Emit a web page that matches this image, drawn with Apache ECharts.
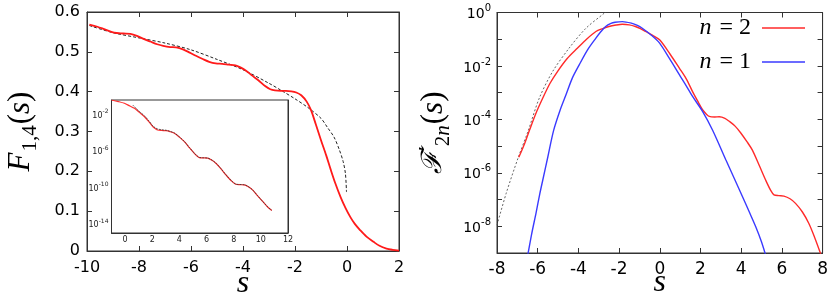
<!DOCTYPE html>
<html><head><meta charset="utf-8">
<script src="https://cdn.jsdelivr.net/npm/echarts@6/dist/echarts.min.js"></script>
<style>html,body{margin:0;padding:0;background:#fff}#c{width:831px;height:305px}</style>
</head><body><div id="c"></div>
<script>
// ---------- Left panel: F_{1,4}(s) ----------
const leftRedS = [-9.91,-9.6,-9.34,-8.96,-8.6,-8.33,-8.08,-7.8,-7.57,-7.3,-7.07,-6.8,-6.57,-6.31,-6.05,-5.81,-5.55,-5.3,-5.05,-4.8,-4.55,-4.29,-4.1,-3.91,-3.66,-3.4,-3.15,-2.95,-2.77,-2.55,-2.35,-2.14,-1.95,-1.76,-1.55,-1.38,-1.2,-1.0,-0.8,-0.62,-0.45,-0.25,-0.05,0.13,0.3,0.51,0.75,1.02,1.25,1.52,1.75,2.0];
const leftRedF = [0.568,0.563,0.557,0.548,0.546,0.545,0.540,0.532,0.526,0.519,0.515,0.512,0.511,0.506,0.498,0.490,0.482,0.475,0.471,0.470,0.468,0.466,0.461,0.454,0.441,0.428,0.414,0.406,0.403,0.402,0.402,0.401,0.398,0.391,0.375,0.353,0.318,0.278,0.240,0.203,0.170,0.136,0.107,0.085,0.068,0.052,0.036,0.023,0.013,0.006,0.003,0.001];
const leftDashS = [-9.91,-9.0,-8.0,-7.0,-6.0,-5.0,-4.0,-3.0,-2.5,-2.0,-1.5,-1.0,-0.75,-0.5,-0.3,-0.15,-0.06,-0.02];
const leftDashF = [0.566,0.548,0.535,0.522,0.505,0.481,0.455,0.421,0.402,0.382,0.360,0.333,0.310,0.286,0.255,0.225,0.194,0.148];

// ---------- Inset (log scale) ----------
const insetRedS = [-1.0,-0.5,-0.05,0.35,0.69,1.05,1.43,1.75,2.04,2.25,2.4,2.7,3.01,3.3,3.63,4.0,4.37,4.75,5.1,5.3,5.47,5.75,6.08,6.4,6.69,7.05,7.43,7.8,8.16,8.45,8.78,9.05,9.39,9.75,10.13,10.5,10.81];
const insetRedV = [0.34,0.23,0.148,0.075,0.042,0.015,5.1e-3,1.5e-3,4.2e-4,2.4e-4,1.8e-4,1.6e-4,1.5e-4,1.2e-4,7.9e-5,3.0e-5,9.5e-6,2.0e-6,5.1e-7,2.6e-7,1.7e-7,1.6e-7,1.5e-7,9.0e-8,4.2e-8,1.1e-8,2.2e-9,5.5e-10,2.1e-10,1.9e-10,1.8e-10,1.2e-10,5.1e-11,1.2e-11,2.8e-12,7.0e-13,2.9e-13];
const insetDashS = [0.57,1.0,1.43,1.75,2.04,2.25,2.4,2.7,3.01,3.3,3.63,4.0,4.37,4.75,5.1,5.3,5.47,5.75,6.08,6.4,6.69,7.05,7.43,7.8,8.16,8.45,8.78,9.05,9.39,9.75,10.13,10.5,10.81];
const insetDashV = [0.095,0.022,6.3e-3,1.8e-3,5.0e-4,3.0e-4,2.3e-4,1.9e-4,1.7e-4,1.3e-4,8.5e-5,3.2e-5,9.8e-6,2.1e-6,5.3e-7,2.7e-7,1.8e-7,1.65e-7,1.55e-7,9.3e-8,4.3e-8,1.15e-8,2.3e-9,5.7e-10,2.2e-10,2.0e-10,1.85e-10,1.25e-10,5.2e-11,1.25e-11,2.9e-12,7.2e-13,3.0e-13];
const insetXTicks = [0,2,4,6,8,10,12];
const insetYLabels = [1e-2,1e-6,1e-10,1e-14];
const insetYTicks = [1e-2,1e-4,1e-6,1e-8,1e-10,1e-12,1e-14];

// ---------- Right panel: F'_{2n}(s) ----------
const n2S = [-6.93,-6.65,-6.4,-6.1,-5.75,-5.4,-5.02,-4.55,-4.04,-3.6,-3.14,-2.8,-2.5,-2.15,-1.84,-1.5,-1.2,-0.95,-0.7,-0.35,-0.01,0.5,0.96,1.3,1.61,1.85,2.1,2.28,2.43,2.7,2.92,3.2,3.41,3.7,3.98,4.3,4.55,4.9,5.2,5.45,5.61,5.85,6.1,6.4,6.67,7.0,7.32,7.6,7.89,7.95];
const n2V = [3.8e-6,1.2e-5,4.0e-5,1.6e-4,6.3e-4,2.2e-3,6.3e-3,0.019,0.047,0.10,0.195,0.25,0.30,0.34,0.363,0.345,0.30,0.25,0.195,0.14,0.095,0.028,8.3e-3,3.3e-3,1.1e-3,5.0e-4,2.3e-4,1.6e-4,1.3e-4,1.23e-4,1.25e-4,1.1e-4,8.5e-5,5.6e-5,3.1e-5,1.4e-5,7.1e-6,1.8e-6,5.4e-7,2.2e-7,1.5e-7,1.4e-7,1.35e-7,1.07e-7,7.2e-8,3.5e-8,1.3e-8,4.0e-9,1.0e-9,7.0e-10];
const n1S = [-6.55,-6.48,-6.3,-6.08,-5.9,-5.75,-5.5,-5.22,-4.9,-4.61,-4.3,-3.96,-3.55,-3.14,-2.9,-2.66,-2.4,-2.2,-1.84,-1.4,-1.1,-0.86,-0.4,-0.01,0.48,0.96,1.3,1.61,2.1,2.59,3.25,3.65,4.06,4.4,4.71,5.0,5.17,5.25];
const n1V = [5.0e-10,9.1e-10,5.0e-9,3.2e-8,1.6e-7,5.4e-7,4.0e-6,3.8e-5,2.2e-4,8.3e-4,3.5e-3,0.011,0.040,0.11,0.19,0.30,0.39,0.43,0.457,0.40,0.33,0.257,0.138,0.071,0.0186,4.7e-3,1.8e-3,7.2e-4,2.0e-4,4.0e-5,3.0e-6,6.4e-7,1.3e-7,3.4e-8,9.8e-9,2.6e-9,1.0e-9,6.3e-10];
const dashRS = [-8.0,-7.55,-6.97,-6.48,-5.92,-5.26,-4.45,-3.63,-2.74,-2.5];
const dashRV = [1.1e-8,1.7e-7,3.5e-6,3.5e-5,6.3e-4,6.3e-3,0.047,0.257,0.93,1.35];
const rightYLabels = [1e-8,1e-6,1e-4,1e-2,1];
const rightYTicks = [1e-8,1e-7,1e-6,1e-5,1e-4,1e-3,1e-2,1e-1,1];

const zip = (a, b) => a.map((v, i) => [v, b[i]]);

const AX = '#333333';
const SANS = 'DejaVu Sans';
const SERIF = 'Liberation Serif';
const line = () => ({ show: true, onZero: false, lineStyle: { color: AX, width: 1 } });
function tick(len, custom) { const t = { show: true, inside: true, length: len, lineStyle: { color: AX, width: 1 } }; if (custom) t.customValues = custom.slice(); return t; }
const hidden = () => ({ show: false });
const noSplit = () => ({ show: false });
const expFmt = v => '{b|10}{s|' + Math.round(Math.log10(v)) + '}';

const chart = echarts.init(document.getElementById('c'));
chart.setOption({
  animation: false,
  grid: [
    { left: 83, right: 432, top: 12, bottom: 54, show: true, borderColor: AX, borderWidth: 1 },
    { left: 111.5, right: 543, top: 100, bottom: 72, show: true, backgroundColor: '#fff', borderColor: AX, borderWidth: 1, z: 3 },
    { left: 497, right: 7, top: 12.5, bottom: 52, show: true, borderColor: AX, borderWidth: 1 }
  ],
  xAxis: [
    { gridIndex: 0, type: 'value', min: -10, max: 2, interval: 2, position: 'bottom', axisLine: line(), axisTick: tick(5), splitLine: noSplit(),
      axisLabel: { fontFamily: SANS, fontSize: 16, color: '#000', margin: 9 },
      name: 's', nameLocation: 'middle', nameGap: 17, nameMoveOverlap: false,
      nameTextStyle: { fontFamily: SERIF, fontStyle: 'italic', fontSize: 32, color: '#000' } },
    { gridIndex: 0, type: 'value', min: -10, max: 2, interval: 2, position: 'top', axisLine: line(), axisTick: tick(5), axisLabel: hidden(), splitLine: noSplit() },
    { gridIndex: 1, type: 'value', min: -1, max: 12, position: 'bottom', axisLine: line(), axisTick: tick(3, insetXTicks), splitLine: noSplit(),
      axisLabel: { customValues: insetXTicks.slice(), fontFamily: SANS, fontSize: 8, color: '#222', margin: 3 } },
    { gridIndex: 1, type: 'value', min: -1, max: 12, position: 'top', axisLine: line(), axisTick: tick(3, insetXTicks), axisLabel: hidden(), splitLine: noSplit() },
    { gridIndex: 2, type: 'value', min: -8, max: 8, interval: 2, position: 'bottom', axisLine: line(), axisTick: tick(5), splitLine: noSplit(),
      axisLabel: { fontFamily: SANS, fontSize: 17, color: '#000', margin: 8 },
      name: 's', nameLocation: 'middle', nameGap: 14, nameMoveOverlap: false,
      nameTextStyle: { fontFamily: SERIF, fontStyle: 'italic', fontSize: 32, color: '#000' } },
    { gridIndex: 2, type: 'value', min: -8, max: 8, interval: 2, position: 'top', axisLine: line(), axisTick: tick(5), axisLabel: hidden(), splitLine: noSplit() }
  ],
  yAxis: [
    { gridIndex: 0, type: 'value', min: 0, max: 0.6, interval: 0.1, position: 'left', axisLine: line(), axisTick: tick(5), splitLine: noSplit(),
      axisLabel: { fontFamily: SANS, fontSize: 16, color: '#000', margin: 7 },
      name: '{i|F}{sub|1,4}{n|(}{i|s}{n|)}', nameLocation: 'middle', nameGap: 46, nameRotate: 90, nameMoveOverlap: false,
      nameTextStyle: { color: '#000', rich: {
        i: { fontFamily: SERIF, fontStyle: 'italic', fontSize: 31, lineHeight: 40 },
        n: { fontFamily: SERIF, fontSize: 31, lineHeight: 40 },
        sub: { fontFamily: SERIF, fontSize: 21, lineHeight: 40, verticalAlign: 'top', padding: [19, 1, 0, 1] } } } },
    { gridIndex: 0, type: 'value', min: 0, max: 0.6, interval: 0.1, position: 'right', axisLine: line(), axisTick: tick(5), axisLabel: hidden(), splitLine: noSplit() },
    { gridIndex: 1, type: 'log', logBase: 10, min: 1e-15, max: 0.34, position: 'left', axisLine: line(), axisTick: tick(3, insetYTicks), splitLine: noSplit(), minorTick: { show: false },
      axisLabel: { customValues: insetYLabels.slice(), formatter: expFmt, margin: 3, color: '#222',
        rich: { b: { fontFamily: SANS, fontSize: 8, lineHeight: 11, verticalAlign: 'bottom' }, s: { fontFamily: SANS, fontSize: 6, lineHeight: 11, verticalAlign: 'top' } } } },
    { gridIndex: 1, type: 'log', logBase: 10, min: 1e-15, max: 0.34, position: 'right', axisLine: line(), axisTick: tick(3, insetYTicks), axisLabel: hidden(), splitLine: noSplit() },
    { gridIndex: 2, type: 'log', logBase: 10, min: 1e-9, max: 1, position: 'left', axisLine: line(), axisTick: tick(5, rightYTicks), splitLine: noSplit(), minorTick: { show: false },
      axisLabel: { customValues: rightYLabels.slice(), formatter: expFmt, margin: 6, color: '#000',
        rich: { b: { fontFamily: SANS, fontSize: 14, lineHeight: 18, verticalAlign: 'bottom' }, s: { fontFamily: SANS, fontSize: 10, lineHeight: 18, verticalAlign: 'top' } } },
      name: '{c|ℱ}{p|′}{sub|2}{subi|n}{n|(}{i|s}{n|)}', nameLocation: 'middle', nameGap: 43, nameRotate: 90, nameMoveOverlap: false,
      nameTextStyle: { color: '#000', rich: {
        c: { fontFamily: 'DejaVu Serif', fontStyle: 'italic', fontSize: 28, lineHeight: 40 },
        p: { fontFamily: SERIF, fontSize: 22, lineHeight: 40, verticalAlign: 'top', padding: [2, 0, 0, 0] },
        i: { fontFamily: SERIF, fontStyle: 'italic', fontSize: 31, lineHeight: 40 },
        n: { fontFamily: SERIF, fontSize: 31, lineHeight: 40 },
        sub: { fontFamily: SERIF, fontSize: 21, lineHeight: 40, verticalAlign: 'top', padding: [19, 0, 0, 0] },
        subi: { fontFamily: SERIF, fontStyle: 'italic', fontSize: 21, lineHeight: 40, verticalAlign: 'top', padding: [19, 1, 0, 0] } } } },
    { gridIndex: 2, type: 'log', logBase: 10, min: 1e-9, max: 1, position: 'right', axisLine: line(), axisTick: tick(5, rightYTicks), axisLabel: hidden(), splitLine: noSplit() }
  ],
  legend: {
    data: [{ name: 'n2', icon: 'rect' }, { name: 'n1', icon: 'rect' }], orient: 'vertical', right: 26, top: 16, align: 'right', padding: 0,
    itemWidth: 43, itemHeight: 1.6, itemGap: 10, selectedMode: false,
    formatter: name => name === 'n2' ? '{i|n}{t| = 2 }' : '{i|n}{t| = 1 }',
    textStyle: { color: '#000', rich: {
      i: { fontFamily: SERIF, fontStyle: 'italic', fontSize: 24, lineHeight: 24 },
      t: { fontFamily: SERIF, fontSize: 24, lineHeight: 24, padding: [0, 0, 0, 2] } } }
  },
  series: [
    { type: 'line', xAxisIndex: 0, yAxisIndex: 0, data: zip(leftDashS, leftDashF), symbol: 'none', smooth: 0.3, z: 2,
      lineStyle: { color: '#222', width: 1, type: [3, 2] } },
    { type: 'line', xAxisIndex: 0, yAxisIndex: 0, data: zip(leftRedS, leftRedF), symbol: 'none', smooth: 0.3, z: 3,
      lineStyle: { color: '#ff1a1a', width: 1.8 } },
    { type: 'line', xAxisIndex: 2, yAxisIndex: 2, data: zip(insetRedS, insetRedV), symbol: 'none', smooth: 0.3, z: 4,
      lineStyle: { color: '#ff3030', width: 1.2 } },
    { type: 'line', xAxisIndex: 2, yAxisIndex: 2, data: zip(insetDashS, insetDashV), symbol: 'none', smooth: 0.3, z: 5,
      lineStyle: { color: '#333', width: 0.8, type: [2, 1] } },
    { type: 'line', xAxisIndex: 4, yAxisIndex: 4, data: zip(dashRS, dashRV), symbol: 'none', smooth: 0.3, z: 2,
      lineStyle: { color: '#555', width: 0.9, type: [2, 2] } },
    { name: 'n2', type: 'line', xAxisIndex: 4, yAxisIndex: 4, data: zip(n2S, n2V), symbol: 'none', smooth: 0.3, z: 3,
      lineStyle: { color: '#ff2a2a', width: 1.4 }, itemStyle: { color: '#ff2a2a' } },
    { name: 'n1', type: 'line', xAxisIndex: 4, yAxisIndex: 4, data: zip(n1S, n1V), symbol: 'none', smooth: 0.3, z: 3,
      lineStyle: { color: '#3a3aff', width: 1.4 }, itemStyle: { color: '#3a3aff' } }
  ]
});
</script></body></html>
